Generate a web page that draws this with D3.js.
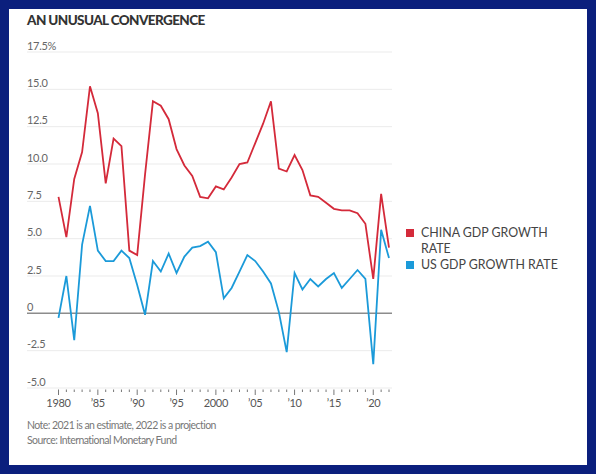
<!DOCTYPE html>
<html>
<head>
<meta charset="utf-8">
<script src="https://cdn.jsdelivr.net/npm/d3@7"></script>
<style>
  html, body { margin: 0; padding: 0; background: #0b1f7d; }
  svg { display: block; font-family: Lato, "Open Sans", sans-serif; }
</style>
</head>
<body>
<svg id="chart" width="596" height="474"></svg>
<script>
// years 1980..2022
let years = d3.range(1980, 2023);

let china_gdp = [7.8, 5.1, 9.0, 10.8, 15.2, 13.4, 8.7, 11.7, 11.2, 4.2,
	3.9, 9.3, 14.2, 13.9, 13.0, 11.0, 9.9, 9.2, 7.8, 7.7,
	8.5, 8.3, 9.1, 10.0, 10.1, 11.4, 12.7, 14.2, 9.7, 9.5,
	10.6, 9.6, 7.9, 7.8, 7.4, 7.0, 6.9, 6.9, 6.7, 6.0,
	2.3, 8.0, 4.4];

let us_gdp = [-0.3, 2.5, -1.8, 4.6, 7.2, 4.2, 3.5, 3.5, 4.2, 3.7,
	1.9, -0.1, 3.5, 2.8, 4.0, 2.7, 3.8, 4.4, 4.5, 4.8,
	4.1, 1.0, 1.7, 2.8, 3.9, 3.5, 2.8, 2.0, 0.1, -2.6,
	2.7, 1.6, 2.3, 1.8, 2.3, 2.7, 1.7, 2.3, 2.9, 2.3,
	-3.4, 5.6, 3.7];

let y_ticks = [-5, -2.5, 0, 2.5, 5, 7.5, 10, 12.5, 15, 17.5];
let x_major = [1980, 1985, 1990, 1995, 2000, 2005, 2010, 2015, 2020];
let x_labels = ['1980', '\u201985', '\u201990', '\u201995', '2000', '\u201905', '\u201910', '\u201915', '\u201920'];

let series_names = ['CHINA GDP GROWTH RATE', 'US GDP GROWTH RATE'];
let series_color = ['#d42a3a', '#1b9ad9'];

let svg = d3.select('#chart');

// white panel inside the blue frame
svg.append('rect')
	.attr('x', 9).attr('y', 9)
	.attr('width', 578).attr('height', 456)
	.attr('fill', '#ffffff');

let gridLeft = 27;
let gridRight = 392;

let x = d3.scaleLinear()
	.domain([1980, 2022])
	.range([58.5, 389]);

let y = d3.scaleLinear()
	.domain([-5, 17.5])
	.range([388, 52]);

// title
svg.append('text')
	.attr('x', 27).attr('y', 25)
	.attr('font-size', 13.5)
	.attr('font-weight', 900)
	.attr('fill', '#333')
	.attr('letter-spacing', -0.6)
	.text('AN UNUSUAL CONVERGENCE');

// gridlines + y labels
let yg = svg.append('g');
yg.selectAll('line')
	.data(y_ticks)
	.enter()
	.append('line')
	.attr('x1', gridLeft).attr('x2', gridRight)
	.attr('y1', d => y(d)).attr('y2', d => y(d))
	.attr('stroke', d => d === 0 ? '#8c8c8c' : '#ebebeb')
	.attr('stroke-width', d => d === 0 ? 1.5 : 1);

yg.selectAll('text')
	.data(y_ticks)
	.enter()
	.append('text')
	.attr('x', gridLeft)
	.attr('y', d => y(d) - 2.5)
	.attr('font-size', 11)
	.attr('fill', '#666')
	.attr('letter-spacing', -0.3)
	.text(d => d === 0 ? '0' : (d === 17.5 ? '17.5%' : d.toFixed(1)));

// x axis ticks
let xg = svg.append('g');
xg.selectAll('line')
	.data(years)
	.enter()
	.append('line')
	.attr('x1', d => x(d)).attr('x2', d => x(d))
	.attr('y1', 389.5)
	.attr('y2', d => x_major.indexOf(d) >= 0 ? 395 : 392)
	.attr('stroke', '#777')
	.attr('stroke-width', 1);

xg.selectAll('text')
	.data(x_major)
	.enter()
	.append('text')
	.attr('x', d => x(d))
	.attr('y', 407)
	.attr('text-anchor', 'middle')
	.attr('font-size', 11)
	.attr('fill', '#555')
	.attr('letter-spacing', -0.3)
	.text((d, i) => x_labels[i]);

// lines
[china_gdp, us_gdp].map(function(vals, idx) {
	let line = d3.line()
		.x((d, i) => x(years[i]))
		.y(d => y(d));
	svg.append('path')
		.datum(vals)
		.attr('fill', 'none')
		.attr('stroke', series_color[idx])
		.attr('stroke-width', 1.8)
		.attr('stroke-linejoin', 'miter')
		.attr('d', line);
});

// legend
let legend = svg.append('g').attr('font-size', 12.4).attr('fill', '#444');
legend.append('rect')
	.attr('x', 406).attr('y', 229).attr('width', 8).attr('height', 8)
	.attr('fill', series_color[0]);
legend.append('text').attr('x', 421).attr('y', 237).text('CHINA GDP GROWTH');
legend.append('text').attr('x', 421).attr('y', 253).text('RATE');
legend.append('rect')
	.attr('x', 406).attr('y', 261).attr('width', 8).attr('height', 8)
	.attr('fill', series_color[1]);
legend.append('text').attr('x', 421).attr('y', 269).text(series_names[1]);

// notes
svg.append('text')
	.attr('x', 27).attr('y', 429)
	.attr('font-size', 10.5).attr('fill', '#777')
	.attr('letter-spacing', -0.55)
	.text('Note: 2021 is an estimate, 2022 is a projection');
svg.append('text')
	.attr('x', 27).attr('y', 444)
	.attr('font-size', 10.5).attr('fill', '#777')
	.attr('letter-spacing', -0.55)
	.text('Source: International Monetary Fund');
</script>
</body>
</html>
